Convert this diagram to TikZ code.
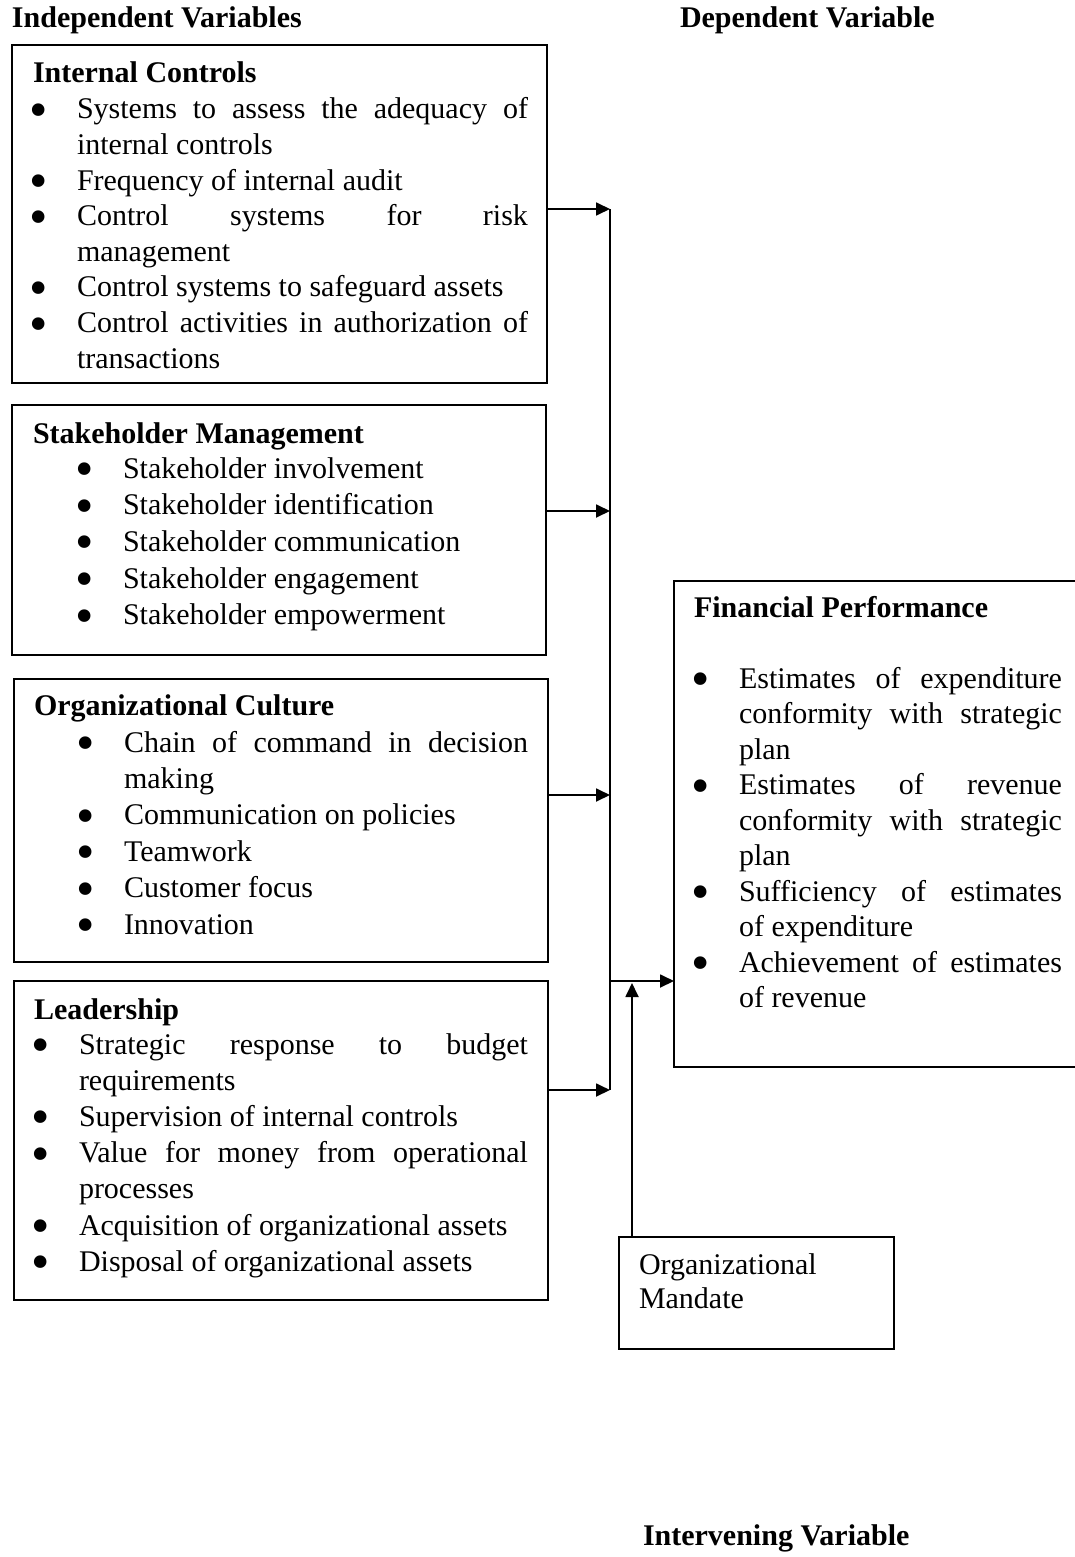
\documentclass[tikz,border=0pt]{standalone}
\usepackage{graphicx}
\usepackage{fontspec}
\setmainfont{Liberation Serif}
\usetikzlibrary{arrows.meta}
\newcommand{\bitem}{\leavevmode\llap{\smash{\raisebox{-8.5pt}{\scalebox{1.75}{\textbullet}}}\hspace{29pt}}}
\newcommand{\sline}[1]{\makebox[\linewidth][s]{#1}}
\begin{document}
\begin{tikzpicture}[x=1pt,y=-1pt,
  box/.style={draw, line width=1.8pt, rectangle, anchor=north west, inner sep=0pt, outer sep=0pt},
  lbl/.style={anchor=base west, inner sep=0pt, outer sep=0pt, font=\fontsize{30}{36}\selectfont},
  hdr/.style={anchor=base west, inner sep=0pt, outer sep=0pt, font=\fontsize{30}{36}\selectfont\bfseries},
  arr/.style={line width=1.8pt, -{Triangle[length=14pt,width=13pt]}},
  conn/.style={line width=1.8pt}]
\useasboundingbox (0,0) rectangle (1074,1557);

% headers
\node[hdr] (hind) at (12,28) {Independent Variables};
\node[hdr] (hdep) at (680,28) {Dependent Variable};
\node[hdr] (hint) at (643,1545) {Intervening Variable};

% Internal Controls
\node[box, minimum width=535pt, minimum height=338pt] (ic) at (12,45) {};
\node[hdr] (ict) at (33,83) {Internal Controls};
\node[lbl, font=\fontsize{30}{35.6}\selectfont] (ici) at (77,119) {\parbox[t]{451pt}{%
\bitem\sline{Systems to assess the adequacy of}\\
internal controls\\
\bitem Frequency of internal audit\\
\bitem\sline{Control systems for risk}\\
management\\
\bitem Control systems to safeguard assets\\
\bitem\sline{Control activities in authorization of}\\
transactions}};

% Stakeholder Management
\node[box, minimum width=534pt, minimum height=250pt] (sm) at (12,405) {};
\node[hdr] (smt) at (33,443) {Stakeholder Management};
\node[lbl, font=\fontsize{30}{36.7}\selectfont] (smi) at (123,478) {\parbox[t]{400pt}{%
\bitem Stakeholder involvement\\
\bitem Stakeholder identification\\
\bitem Stakeholder communication\\
\bitem Stakeholder engagement\\
\bitem Stakeholder empowerment}};

% Organizational Culture
\node[box, minimum width=534pt, minimum height=283pt] (oc) at (14,679) {};
\node[hdr] (oct) at (34,715) {Organizational Culture};
\node[lbl, font=\fontsize{30}{36.4}\selectfont] (oci) at (124,752) {\parbox[t]{404pt}{%
\bitem\sline{Chain of command in decision}\\
making\\
\bitem Communication on policies\\
\bitem Teamwork\\
\bitem Customer focus\\
\bitem Innovation}};

% Leadership
\node[box, minimum width=534pt, minimum height=319pt] (ld) at (14,981) {};
\node[hdr] (ldt) at (34,1019) {Leadership};
\node[lbl, font=\fontsize{30}{36.2}\selectfont] (ldi) at (79,1054) {\parbox[t]{449pt}{%
\bitem\sline{Strategic response to budget}\\
requirements\\
\bitem Supervision of internal controls\\
\bitem\sline{Value for money from operational}\\
processes\\
\bitem Acquisition of organizational assets\\
\bitem Disposal of organizational assets}};

% Financial Performance
\node[box, minimum width=406pt, minimum height=486pt] (fp) at (674,581) {};
\node[hdr] (fpt) at (694,617) {Financial Performance};
\node[lbl, font=\fontsize{30}{35.5}\selectfont] (fpi) at (739,688) {\parbox[t]{323pt}{%
\bitem\sline{Estimates of expenditure}\\
\sline{conformity with strategic}\\
plan\\
\bitem\sline{Estimates of revenue}\\
\sline{conformity with strategic}\\
plan\\
\bitem\sline{Sufficiency of estimates}\\
of expenditure\\
\bitem\sline{Achievement of estimates}\\
of revenue}};

% Organizational Mandate
\node[box, minimum width=275pt, minimum height=112pt] (om) at (619,1237) {};
\node[lbl, font=\fontsize{30}{34}\selectfont] (omt) at (639,1274) {\parbox[t]{240pt}{%
Organizational\\
Mandate}};

% connectors
\coordinate (j1) at (610,209);
\coordinate (j2) at (610,511);
\coordinate (j3) at (610,795);
\coordinate (j4) at (610,1090);
\coordinate (jf) at (610,981);
\coordinate (ju) at (632,983);
\draw[conn] (j1) -- (j4);
\draw[arr] (ic.east |- j1) -- (j1);
\draw[arr] (sm.east |- j2) -- (j2);
\draw[arr] (oc.east |- j3) -- (j3);
\draw[arr] (ld.east |- j4) -- (j4);
\draw[arr] (jf) -- (fp.west |- jf);
\draw[arr] (om.north -| ju) -- (ju);
\end{tikzpicture}
\end{document}
